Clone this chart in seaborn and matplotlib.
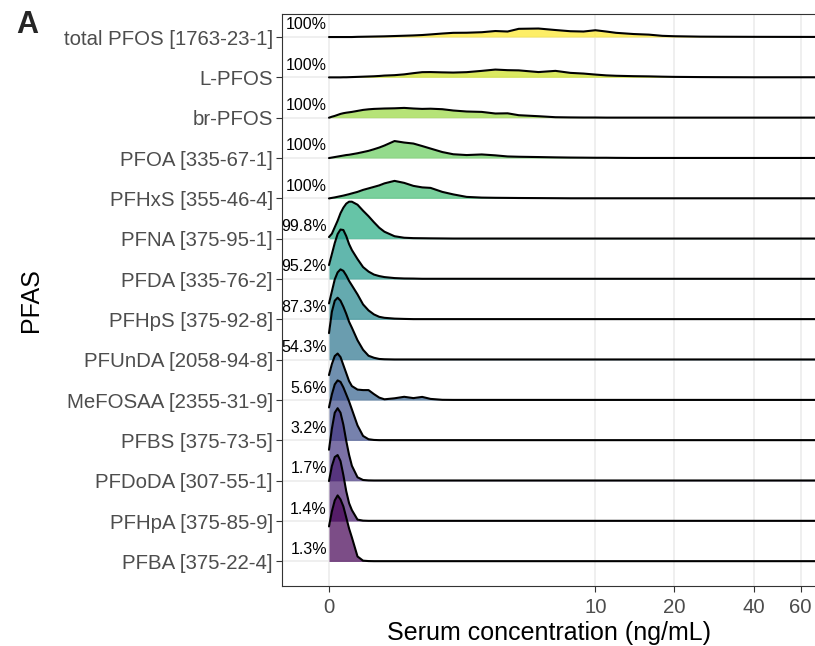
import numpy as np
import matplotlib
matplotlib.use("Agg")
import matplotlib.pyplot as plt
import seaborn as sns

conc = [0, 0.05, 0.1, 0.15, 0.2, 0.25, 0.3, 0.35, 0.4, 0.5, 0.6, 0.7, 0.8, 0.9, 1.0,
        1.2, 1.4, 1.6, 1.8, 2.0, 2.3, 2.6, 3.0, 3.5, 4.0, 4.5, 5, 6, 7, 8, 9, 10,
        11, 12, 14, 16, 18, 20, 25, 30, 40, 68]

# top to bottom
compounds = ["total PFOS [1763-23-1]", "L-PFOS", "br-PFOS", "PFOA [335-67-1]",
             "PFHxS [355-46-4]", "PFNA [375-95-1]", "PFDA [335-76-2]",
             "PFHpS [375-92-8]", "PFUnDA [2058-94-8]", "MeFOSAA [2355-31-9]",
             "PFBS [375-73-5]", "PFDoDA [307-55-1]", "PFHpA [375-85-9]",
             "PFBA [375-22-4]"]
detect = ["100%", "100%", "100%", "100%", "100%", "99.8%", "95.2%", "87.3%",
          "54.3%", "5.6%", "3.2%", "1.7%", "1.4%", "1.3%"]

# density (arbitrary units) per compound on the conc grid
d_total_pfos = [0, 0, 0, 0, 0, 0, 0, 0, 0, 0.2, 0.3, 0.4, 0.5, 0.6, 0.7, 1.0, 1.3, 1.6, 2.0, 2.6, 3.5,
                4.2, 4.3, 4.8, 6.0, 5.5, 8.2, 8.5, 7.0, 5.8, 5.5, 6.8, 5.5, 4.2, 3.0, 2.4, 1.2, 0.8,
                0.4, 0.3, 0.2, 0.1]
d_l_pfos = [0, 0, 0, 0, 0, 0.1, 0.1, 0.2, 0.3, 0.5, 0.7, 0.9, 1.1, 1.4, 1.8, 2.2, 3.0, 4.2, 5.2, 5.3,
            5.0, 4.8, 5.2, 6.5, 7.8, 7.2, 7.0, 5.3, 6.5, 4.5, 3.8, 2.8, 2.0, 1.6, 1.2, 1.0, 0.7, 0.5,
            0.3, 0.2, 0.1, 0.1]
d_br_pfos = [0, 1.0, 1.8, 2.8, 3.8, 4.5, 5.0, 5.4, 5.8, 6.8, 7.8, 8.4, 8.8, 9.0, 9.2, 9.4, 9.8, 9.2,
             8.8, 9.0, 8.5, 7.2, 6.2, 5.8, 4.2, 4.4, 2.5, 1.5, 0.5, 0.3, 0.2, 0.2, 0.1, 0.1, 0.1,
             0.1, 0.1, 0.1, 0.1, 0.1, 0.1, 0.1]
d_pfoa = [0, 0.5, 1.0, 1.5, 2.0, 2.5, 3.0, 3.3, 3.8, 4.8, 6.0, 7.2, 8.8, 10.5, 12.5, 17.0, 15.5, 14.5,
          12.0, 9.5, 6.0, 3.8, 3.0, 3.6, 2.7, 1.6, 1.3, 1.0, 0.7, 0.5, 0.4, 0.3, 0.3, 0.2, 0.1, 0.1,
          0.1, 0.1, 0.1, 0.1, 0.1, 0.1]
d_pfhxs = [0, 0.5, 1.0, 1.6, 2.2, 2.8, 3.5, 4.2, 5.0, 6.5, 8.5, 10.0, 11.5, 13.0, 15.0, 17.5, 15.5,
           12.5, 11.0, 10.5, 6.5, 4.0, 1.5, 0.8, 0.6, 0.5, 0.4, 0.3, 0.2, 0.1, 0.1, 0.1, 0.1, 0.1,
           0.1, 0.1, 0.1, 0.1, 0.1, 0.1, 0.1, 0.1]
d_pfna = [1.7, 5, 11.5, 18, 25.5, 31, 35, 37, 37, 34, 28, 22.5, 16.5, 11, 7, 2.5, 1, 0.6, 0.5, 0.4,
          0.3, 0.2, 0.2, 0.2, 0.2, 0.2, 0.2, 0.2, 0.2, 0.2, 0.2, 0.2, 0.2, 0.2, 0.2, 0.2, 0.2, 0.2,
          0.2, 0.2, 0.2, 0.2]
d_pfda = [14, 25, 36, 45, 49.5, 49, 43, 35, 29, 20, 12, 7.5, 4.5, 3, 2, 1, 0.6, 0.5, 0.3, 0.3, 0.3,
          0.3, 0.3, 0.3, 0.3, 0.3, 0.3, 0.3, 0.3, 0.3, 0.3, 0.3, 0.3, 0.3, 0.3, 0.3, 0.3, 0.3, 0.3,
          0.3, 0.3, 0.3]
d_pfhps = [16, 28, 40, 47, 50, 48.5, 44, 38.5, 34, 25, 15, 9, 5, 2.6, 1.6, 0.8, 0.5, 0.3, 0.3, 0.3,
           0.3, 0.3, 0.3, 0.3, 0.3, 0.3, 0.3, 0.3, 0.3, 0.3, 0.3, 0.3, 0.3, 0.3, 0.3, 0.3, 0.3, 0.3,
           0.3, 0.3, 0.3, 0.3]
d_pfunda = [26.6, 48, 59, 62, 59, 53, 46, 38, 32, 19.5, 10, 4, 2, 0.8, 0.5, 0.3, 0.3, 0.3, 0.3, 0.3,
            0.3, 0.3, 0.3, 0.3, 0.3, 0.3, 0.3, 0.3, 0.3, 0.3, 0.3, 0.3, 0.3, 0.3, 0.3, 0.3, 0.3,
            0.3, 0.3, 0.3, 0.3, 0.3]
d_mefosaa = [25, 36, 44, 46.5, 43, 35, 27, 19, 14, 10.5, 10, 10, 6, 2.5, 0.8, 1.8, 3.3, 2.0, 3.2,
             1.2, 0.3, 0.2, 0.2, 0.2, 0.2, 0.2, 0.2, 0.2, 0.2, 0.2, 0.2, 0.2, 0.2, 0.2, 0.2, 0.2,
             0.2, 0.2, 0.2, 0.2, 0.2, 0.2]
d_pfbs = [33, 46, 56, 60, 58.5, 53, 46, 39, 31, 15, 4.5, 1.2, 0.5, 0.3, 0.3, 0.3, 0.3, 0.3, 0.3,
          0.3, 0.3, 0.3, 0.3, 0.3, 0.3, 0.3, 0.3, 0.3, 0.3, 0.3, 0.3, 0.3, 0.3, 0.3, 0.3, 0.3, 0.3,
          0.3, 0.3, 0.3, 0.3, 0.3]
d_pfdoda = [31, 52, 68, 72.5, 68, 56, 40, 26, 15, 3.5, 0.8, 0.4, 0.3, 0.3, 0.3, 0.3, 0.3, 0.3, 0.3,
            0.3, 0.3, 0.3, 0.3, 0.3, 0.3, 0.3, 0.3, 0.3, 0.3, 0.3, 0.3, 0.3, 0.3, 0.3, 0.3, 0.3,
            0.3, 0.3, 0.3, 0.3, 0.3, 0.3]
d_pfhpa = [40, 55, 64, 66, 60, 46, 30, 18, 11, 1.5, 0.5, 0.3, 0.3, 0.3, 0.3, 0.3, 0.3, 0.3, 0.3,
           0.3, 0.3, 0.3, 0.3, 0.3, 0.3, 0.3, 0.3, 0.3, 0.3, 0.3, 0.3, 0.3, 0.3, 0.3, 0.3, 0.3,
           0.3, 0.3, 0.3, 0.3, 0.3, 0.3]
d_pfba = [35, 50, 61, 66, 62, 55, 44, 33, 24, 5, 0.8, 0.4, 0.3, 0.3, 0.3, 0.3, 0.3, 0.3, 0.3, 0.3,
          0.3, 0.3, 0.3, 0.3, 0.3, 0.3, 0.3, 0.3, 0.3, 0.3, 0.3, 0.3, 0.3, 0.3, 0.3, 0.3, 0.3, 0.3,
          0.3, 0.3, 0.3, 0.3]

ridges = [d_total_pfos, d_l_pfos, d_br_pfos, d_pfoa, d_pfhxs, d_pfna, d_pfda, d_pfhps,
          d_pfunda, d_mefosaa, d_pfbs, d_pfdoda, d_pfhpa, d_pfba]

x_ticks = [0, 10, 20, 40, 60]

sns.set_theme(style="white")
plt.rcParams["font.family"] = ["Liberation Sans", "DejaVu Sans"]

ridge_scale = 1 / 40.3  # density units -> row heights


def fwd(v):
    return np.arcsinh(np.asarray(v, dtype=float) / 2)


def inv(u):
    return 2 * np.sinh(np.asarray(u, dtype=float))


fig = plt.figure(figsize=(8.15, 6.46), dpi=100)
ax = fig.add_axes([282 / 815, 1 - 586 / 646, 534 / 815, 572 / 646])
ax.set_xscale("function", functions=(fwd, inv))

n = len(compounds)
cmap = matplotlib.colormaps["viridis"]
cols = cmap(np.linspace(0, 1, n))[::-1]  # top row yellow

for k, (name, dens) in enumerate(zip(compounds, ridges)):
    y0 = n - 1 - k
    top = y0 + np.array(dens) * ridge_scale
    ax.fill_between(conc, y0, top, color=cols[k], alpha=0.7, lw=0, zorder=2 + 2 * k)
    sns.lineplot(x=conc, y=top, color="black", lw=1.5, ax=ax, zorder=3 + 2 * k,
                 estimator=None, sort=False)
    ax.annotate(detect[k], xy=(0, y0 + 0.3), xytext=(-1.5, 0), textcoords="offset points",
                ha="right", va="center", fontsize=11.5, color="black", zorder=60)

ax.set_xlim(inv(-0.408), inv(4.2274))
ax.set_ylim(-0.608, n - 1 + 0.571)

ax.set_xticks(x_ticks)
ax.set_xticklabels([str(t) for t in x_ticks])
ax.xaxis.set_minor_locator(matplotlib.ticker.NullLocator())
ax.set_yticks(range(n))
ax.set_yticklabels(compounds[::-1])

ax.grid(True, color="#EBEBEB", lw=1.1)
ax.set_axisbelow(True)
ax.tick_params(axis="both", which="major", length=4, width=0.8, color="#333333",
               labelcolor="#4D4D4D", labelsize=14.7, pad=2.5, left=True, bottom=True)
ax.tick_params(axis="x", pad=4.5)
for sp in ax.spines.values():
    sp.set_color("#333333")
    sp.set_linewidth(0.8)

ax.set_xlabel("Serum concentration (ng/mL)", fontsize=18, color="black", labelpad=3)
ax.set_ylabel("PFAS", fontsize=18, color="black")
ax.yaxis.set_label_coords(-0.447, 0.5)

fig.text(27 / 815, 1 - 25 / 646, "A", ha="center", va="center", fontsize=22, fontweight="bold")

fig.savefig("out.png", dpi=100)
